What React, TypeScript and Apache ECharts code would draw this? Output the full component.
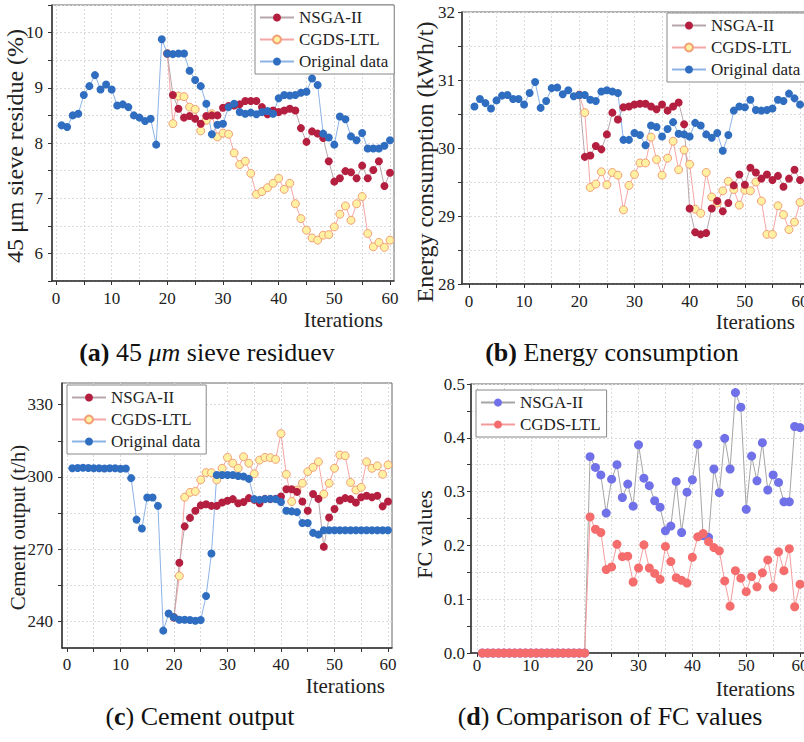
import React, { useEffect, useRef } from 'react';
import * as echarts from 'echarts';

// ---------------- data ----------------
const iterations = [
  1, 2, 3, 4, 5, 6, 7, 8, 9, 10, 11, 12, 13, 14, 15, 16, 17, 18, 19, 20,
  21, 22, 23, 24, 25, 26, 27, 28, 29, 30, 31, 32, 33, 34, 35, 36, 37, 38, 39, 40,
  41, 42, 43, 44, 45, 46, 47, 48, 49, 50, 51, 52, 53, 54, 55, 56, 57, 58, 59, 60,
];
// optimisation series start at iteration 20
const OPT_START = 20;

// (a) 45 um sieve residue (%)
const origA = [
  8.32, 8.29, 8.5, 8.53, 8.87, 9.03, 9.23, 8.97, 9.06, 8.97,
  8.68, 8.7, 8.65, 8.5, 8.46, 8.4, 8.44, 7.97, 9.88, 9.62,
  9.61, 9.62, 9.62, 9.31, 9.14, 9.03, 8.71, 8.16, 8.33, 8.35,
  8.65, 8.71, 8.56, 8.53, 8.55, 8.52, 8.56, 8.58, 8.53, 8.81,
  8.87, 8.86, 8.87, 8.91, 8.93, 9.17, 9.05, 8.17, 8.1, 7.97,
  8.48, 8.43, 8.12, 8.05, 8.18, 7.9, 7.9, 7.9, 7.95, 8.05,
];
const nsgaA = [
  9.62, 8.87, 8.62, 8.46, 8.49, 8.44, 8.35, 8.49, 8.5, 8.5,
  8.64, 8.67, 8.68, 8.7, 8.76, 8.76, 8.76, 8.65, 8.52, 8.59,
  8.56, 8.59, 8.62, 8.59, 8.27, 8.02, 8.21, 8.17, 8.09, 7.67,
  7.3, 7.36, 7.49, 7.47, 7.36, 7.59, 7.36, 7.51, 7.67, 7.22, 7.46,
];
const cgdsA = [
  9.62, 8.35, 8.85, 8.84, 8.65, 8.61, 8.22, 8.41, 8.53, 8.11,
  8.18, 8.16, 7.82, 7.61, 7.67, 7.45, 7.07, 7.12, 7.19, 7.27,
  7.36, 7.16, 7.27, 6.9, 6.63, 6.42, 6.28, 6.24, 6.33, 6.34,
  6.48, 6.71, 6.86, 6.6, 6.9, 7.03, 6.36, 6.12, 6.2, 6.11, 6.24,
];

// (b) Energy consumption (kWh/t)
const origB = [
  30.61, 30.72, 30.66, 30.58, 30.7, 30.77, 30.78, 30.72, 30.72, 30.64,
  30.81, 30.97, 30.59, 30.69, 30.88, 30.89, 30.79, 30.85, 30.76, 30.78,
  30.78, 30.71, 30.69, 30.83, 30.85, 30.83, 30.81, 30.12, 30.12, 30.22,
  30.19, 30.04, 30.33, 30.31, 30.17, 30.28, 30.38, 30.21, 30.2, 30.17,
  30.37, 30.33, 30.2, 30.15, 30.22, 29.96, 30.19, 30.55, 30.61, 30.6,
  30.71, 30.56, 30.55, 30.56, 30.58, 30.71, 30.69, 30.8, 30.73, 30.64,
];
const nsgaB = [
  30.78, 29.87, 29.89, 30.03, 29.98, 30.2, 30.52, 30.42, 30.6, 30.61,
  30.64, 30.65, 30.65, 30.61, 30.57, 30.64, 30.55, 30.61, 30.67, 30.35,
  29.11, 28.76, 28.73, 28.75, 29.11, 29.22, 29.07, 29.19, 29.45, 29.61,
  29.46, 29.71, 29.64, 29.55, 29.61, 29.53, 29.59, 29.43, 29.55, 29.68, 29.53,
];
const cgdsB = [
  30.78, 30.52, 29.42, 29.47, 29.65, 29.46, 29.64, 29.6, 29.09, 29.45,
  29.61, 29.78, 29.78, 30.16, 29.83, 29.6, 29.85, 30.1, 29.68, 29.97,
  29.76, 29.1, 29.04, 29.64, 29.28, 29.19, 29.37, 29.51, 29.39, 29.16,
  29.38, 29.37, 29.5, 29.22, 28.73, 28.73, 29.15, 29.02, 28.8, 28.91, 29.2,
];

// (c) Cement output (t/h)
const origC = [
  303.6, 303.7, 303.8, 303.7, 303.6, 303.6, 303.5, 303.6, 303.6, 303.4,
  303.5, 299.5, 282.3, 278.6, 291.5, 291.5, 288.0, 236.2, 243.3, 241.7,
  240.7, 240.7, 240.6, 240.3, 240.6, 250.6, 268.2, 300.8, 300.8, 300.8,
  300.8, 300.4, 300.2, 299.2, 290.8, 290.5, 290.8, 290.9, 290.8, 289.6,
  286.0, 285.7, 285.4, 280.9, 280.9, 276.8, 276.1, 277.9, 277.9, 277.9,
  277.9, 277.9, 277.9, 277.9, 277.9, 277.9, 277.9, 277.9, 277.9, 277.9,
];
const nsgaC = [
  241.7, 264.4, 279.5, 283.0, 286.0, 288.2, 288.7, 288.0, 288.0, 289.4,
  290.1, 290.8, 289.1, 289.6, 291.2, 290.5, 289.1, 290.9, 290.8, 290.9,
  291.9, 294.9, 294.9, 293.8, 289.8, 286.0, 292.9, 290.9, 271.0, 283.2,
  286.7, 290.2, 291.2, 290.8, 289.4, 291.6, 292.2, 291.6, 292.2, 287.8, 289.8,
];
const cgdsC = [
  241.7, 258.9, 291.6, 293.6, 294.0, 298.8, 301.8, 301.8, 298.8, 303.6,
  308.1, 305.7, 303.6, 308.4, 305.7, 301.3, 307.0, 308.1, 308.0, 307.3,
  318.0, 301.1, 289.8, 294.6, 297.4, 302.2, 304.0, 306.3, 292.9, 297.4,
  303.6, 309.1, 308.8, 297.7, 294.6, 295.7, 306.3, 303.6, 304.6, 301.1, 305.0,
];

// (d) FC values (iterations 1..60)
const nsgaD = [
  0, 0, 0, 0, 0, 0, 0, 0, 0, 0, 0, 0, 0, 0, 0, 0, 0, 0, 0, 0,
  0.365, 0.345, 0.331, 0.26, 0.323, 0.35, 0.289, 0.314, 0.273, 0.387,
  0.325, 0.311, 0.283, 0.271, 0.227, 0.236, 0.319, 0.224, 0.299, 0.322,
  0.388, 0.218, 0.215, 0.342, 0.298, 0.399, 0.342, 0.484, 0.457, 0.267,
  0.366, 0.32, 0.391, 0.303, 0.331, 0.317, 0.281, 0.281, 0.421, 0.419,
];
const cgdsD = [
  0, 0, 0, 0, 0, 0, 0, 0, 0, 0, 0, 0, 0, 0, 0, 0, 0, 0, 0, 0,
  0.253, 0.23, 0.224, 0.155, 0.16, 0.202, 0.179, 0.18, 0.132, 0.158,
  0.201, 0.158, 0.148, 0.137, 0.198, 0.17, 0.14, 0.135, 0.13, 0.178,
  0.216, 0.222, 0.207, 0.196, 0.19, 0.134, 0.087, 0.153, 0.139, 0.114,
  0.142, 0.123, 0.149, 0.173, 0.122, 0.188, 0.153, 0.194, 0.086, 0.128,
];

// tick / label values
const xTickValues = [0, 5, 10, 15, 20, 25, 30, 35, 40, 45, 50, 55, 60];
const xLabelValues = [0, 10, 20, 30, 40, 50, 60];
const yTicksA = [5.5, 6, 6.5, 7, 7.5, 8, 8.5, 9, 9.5, 10, 10.5];
const yLabelsA = [6, 7, 8, 9, 10];
const yTicksB = [28, 28.5, 29, 29.5, 30, 30.5, 31, 31.5, 32];
const yLabelsB = [28, 29, 30, 31, 32];
const yTicksC = [240, 255, 270, 285, 300, 315, 330];
const yLabelsC = [240, 270, 300, 330];
const yTicksD = [0, 0.05, 0.1, 0.15, 0.2, 0.25, 0.3, 0.35, 0.4, 0.45, 0.5];
const yLabelsD = [0, 0.1, 0.2, 0.3, 0.4, 0.5];

const seriesNames = ['NSGA-II', 'CGDS-LTL', 'Original data'];
const captions = [
  '{b|(a)} 45 {i|μm} sieve residuev',
  '{b|(b)} Energy consumption',
  '({b|c}) Cement output',
  '({b|d}) Comparison of FC values',
];

// ---------------- styling ----------------
const FONT = "'Liberation Serif', 'Times New Roman', serif";
const AXIS_COLOR = '#333';
const TEXT_COLOR = '#222';

const pts = (vals: number[], start: number) =>
  vals.map((v, i) => [iterations[start - 1 + i], v]);

function xAxis(gridIndex: number, min: number, max: number, gap: number, pad: number, margin: number) {
  return {
    type: 'value',
    gridIndex,
    min,
    max,
    name: 'Iterations',
    nameLocation: 'end',
    nameGap: gap,
    nameMoveOverlap: false,
    nameTextStyle: {
      fontFamily: FONT,
      fontSize: 21,
      color: TEXT_COLOR,
      align: 'right',
      verticalAlign: 'top',
      padding: [pad, 0, 0, 0],
    },
    axisLine: { show: true, onZero: false, lineStyle: { color: AXIS_COLOR, width: 1.5 } },
    axisTick: { show: true, inside: false, length: 4, customValues: xTickValues, lineStyle: { color: AXIS_COLOR } },
    axisLabel: { customValues: xLabelValues, margin, fontFamily: FONT, fontSize: 17, color: TEXT_COLOR },
    splitLine: { show: true, lineStyle: { color: '#dcdcdc', type: [2, 2], width: 1 } },
  };
}

function yAxis(
  gridIndex: number,
  min: number,
  max: number,
  ticks: number[],
  labels: number[],
  name: string,
  nameGap: number,
  nameSize: number,
  namePadRight: number,
  margin: number,
  fmt?: (v: number) => string,
) {
  return {
    type: 'value',
    gridIndex,
    min,
    max,
    name,
    nameLocation: 'middle',
    nameGap,
    nameMoveOverlap: false,
    nameTextStyle: {
      fontFamily: FONT,
      fontSize: nameSize,
      color: TEXT_COLOR,
      padding: [0, namePadRight, 0, 0],
    },
    axisLine: { show: true, onZero: false, lineStyle: { color: AXIS_COLOR, width: 1.5 } },
    axisTick: { show: true, inside: false, length: 4, customValues: ticks, lineStyle: { color: AXIS_COLOR } },
    axisLabel: {
      customValues: labels,
      margin,
      fontFamily: FONT,
      fontSize: 17,
      color: TEXT_COLOR,
      formatter: fmt ? (v: number) => fmt(v) : (v: number) => String(v),
    },
    splitLine: { show: true, lineStyle: { color: '#dcdcdc', type: [2, 2], width: 1 } },
  };
}

const nsgaStyle = {
  symbol: 'circle',
  symbolSize: 8,
  itemStyle: { color: '#B41F40' },
  lineStyle: { color: '#B8A6AB', width: 1 },
};
const cgdsStyle = {
  symbol: 'circle',
  symbolSize: 8,
  itemStyle: { color: '#FFF0A2', borderColor: '#F2A078', borderWidth: 1 },
  lineStyle: { color: '#F5A6A6', width: 1 },
};
const origStyle = {
  symbol: 'circle',
  symbolSize: 8,
  itemStyle: { color: '#2F6DC0' },
  lineStyle: { color: '#8BB3E6', width: 1 },
};
const nsgaDStyle = {
  symbol: 'circle',
  symbolSize: 9,
  itemStyle: { color: '#7070E8' },
  lineStyle: { color: '#A5A5A5', width: 1 },
};
const cgdsDStyle = {
  symbol: 'circle',
  symbolSize: 9,
  itemStyle: { color: '#F46C6C' },
  lineStyle: { color: '#F49C9C', width: 1 },
};

function lineSeries(name: string, idx: number, data: number[][], style: any) {
  return {
    type: 'line',
    name,
    xAxisIndex: idx,
    yAxisIndex: idx,
    data,
    animation: false,
    ...style,
  };
}

function legend(names: string[], left: number, top: number) {
  return {
    data: names,
    left,
    top,
    orient: 'vertical',
    selectedMode: false,
    backgroundColor: '#fff',
    borderColor: '#888',
    borderWidth: 1,
    borderRadius: 0,
    padding: [4, 6, 4, 4],
    itemGap: 5,
    itemWidth: 34,
    itemHeight: 10,
    formatter: (n: string) => n.split('#')[0],
    textStyle: { fontFamily: FONT, fontSize: 17, color: TEXT_COLOR },
  };
}

function caption(text: string, x: number, y: number) {
  return {
    type: 'text',
    x,
    y,
    style: {
      text,
      fontFamily: FONT,
      fontSize: 26,
      fill: '#111',
      align: 'center',
      verticalAlign: 'middle',
      textAlign: 'center',
      textVerticalAlign: 'middle',
      rich: {
        b: { fontFamily: FONT, fontSize: 26, fontWeight: 'bold', fill: '#111' },
        i: { fontFamily: FONT, fontSize: 26, fontStyle: 'italic', fill: '#111' },
      },
    },
  };
}

const gridBase = {
  show: true,
  borderColor: '#666',
  borderWidth: 1,
  backgroundColor: 'transparent',
  containLabel: false,
  outerBoundsMode: 'none',
};

const n = (s: string, p: string) => `${s}#${p}`;

const option = {
  animation: false,
  backgroundColor: '#fff',
  grid: [
    { ...gridBase, left: 52, top: 5, width: 342, height: 276 },
    { ...gridBase, left: 462, top: 12, width: 343, height: 272 },
    { ...gridBase, left: 62, top: 383, width: 330, height: 265 },
    { ...gridBase, left: 471, top: 384, width: 335, height: 269 },
  ],
  xAxis: [
    xAxis(0, -0.72, 60.72, -11, 28, 9),
    xAxis(1, -1.25, 60.9, -10, 27, 9),
    xAxis(2, -0.93, 60.75, -7, 27, 8),
    xAxis(3, -1.11, 61.1, -11, 25, 4),
  ],
  yAxis: [
    yAxis(0, 5.5, 10.5, yTicksA, yLabelsA, '45 μm sieve residue (%)', 25, 24, 6, 9),
    yAxis(1, 28, 32, yTicksB, yLabelsB, 'Energy consumption (kWh/t)', 25, 24, 28, 7),
    yAxis(2, 229, 339, yTicksC, yLabelsC, 'Cement output (t/h)', 34, 21, 24, 9),
    yAxis(3, 0, 0.5, yTicksD, yLabelsD, 'FC values', 36, 22, 32, 6, (v) => v.toFixed(1)),
  ],
  legend: [
    legend(seriesNames.map((s) => n(s, 'a')), 255, 5),
    legend(seriesNames.map((s) => n(s, 'b')), 667, 13),
    legend(seriesNames.map((s) => n(s, 'c')), 67, 385),
    legend([n(seriesNames[0], 'd'), n(seriesNames[1], 'd')], 476, 390),
  ],
  series: [
    lineSeries(n(seriesNames[1], 'a'), 0, pts(cgdsA, OPT_START), cgdsStyle),
    lineSeries(n(seriesNames[0], 'a'), 0, pts(nsgaA, OPT_START), nsgaStyle),
    lineSeries(n(seriesNames[2], 'a'), 0, pts(origA, 1), origStyle),

    lineSeries(n(seriesNames[1], 'b'), 1, pts(cgdsB, OPT_START), cgdsStyle),
    lineSeries(n(seriesNames[0], 'b'), 1, pts(nsgaB, OPT_START), nsgaStyle),
    lineSeries(n(seriesNames[2], 'b'), 1, pts(origB, 1), origStyle),

    lineSeries(n(seriesNames[1], 'c'), 2, pts(cgdsC, OPT_START), cgdsStyle),
    lineSeries(n(seriesNames[0], 'c'), 2, pts(nsgaC, OPT_START), nsgaStyle),
    lineSeries(n(seriesNames[2], 'c'), 2, pts(origC, 1), origStyle),

    lineSeries(n(seriesNames[0], 'd'), 3, pts(nsgaD, 1), nsgaDStyle),
    lineSeries(n(seriesNames[1], 'd'), 3, pts(cgdsD, 1), cgdsDStyle),
  ],
  graphic: [
    caption(captions[0], 207, 352),
    caption(captions[1], 612, 352),
    caption(captions[2], 200, 716),
    caption(captions[3], 610, 716),
  ],
};

export default function App() {
  const ref = useRef<HTMLDivElement>(null);
  useEffect(() => {
    if (!ref.current) return;
    const chart = echarts.init(ref.current, undefined, { renderer: 'svg' });
    chart.setOption(option as any);
    return () => chart.dispose();
  }, []);
  return (
    <div
      ref={ref}
      style={{ position: 'absolute', left: 0, top: 0, width: 804, height: 742 }}
    />
  );
}
